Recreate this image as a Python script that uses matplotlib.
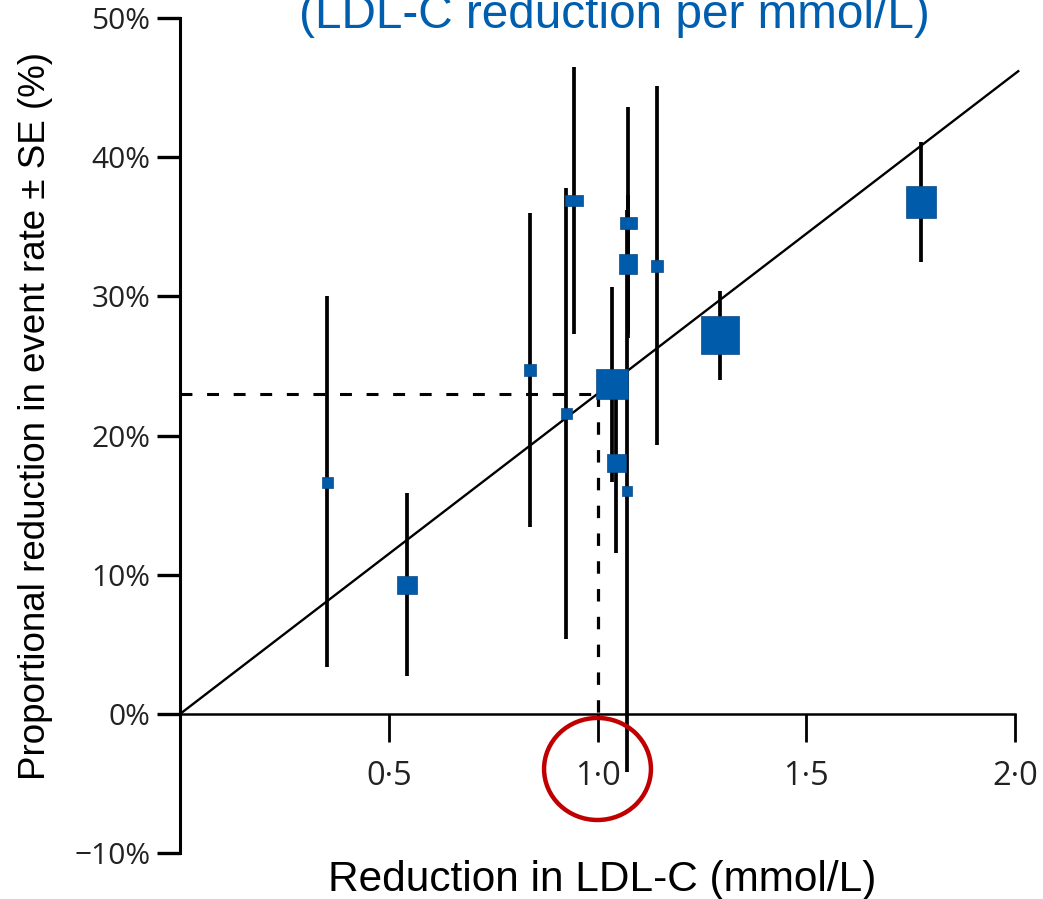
import matplotlib
matplotlib.use("Agg")
import matplotlib.pyplot as plt
from matplotlib.path import Path
from matplotlib.patches import Ellipse

# Trial-level results: absolute LDL-C reduction vs proportional reduction in events
ldl_reduction = [0.353, 0.544, 0.838, 0.925, 0.944, 1.034, 1.044,
                 1.073, 1.072, 1.071, 1.143, 1.293, 1.776]
event_reduction = [16.7, 9.3, 24.7, 21.6, 36.9, 23.7, 18.0,
                   35.3, 32.3, 16.0, 32.2, 27.2, 36.8]
event_se = [13.3, 6.6, 11.3, 16.2, 9.6, 7.0, 6.4,
            8.3, 5.0, 20.2, 12.9, 3.2, 4.3]

# Square size (pixels) reflecting each trial's weight
box_w_px = [11, 20, 12, 11, 18, 32, 19, 17, 19, 10, 12, 38, 30]
box_h_px = [11, 18, 12, 11, 11, 30, 18, 12, 20, 10, 12, 38, 32]

# Fitted relationship: 23% reduction per mmol/L
slope_per_mmol = 23.0
fit_x_end = 2.01
ref_ldl = 1.0

xticks = [0.5, 1.0, 1.5, 2.0]
xtick_labels = ["0\u00b75", "1\u00b70", "1\u00b75", "2\u00b70"]
yticks = [-10, 0, 10, 20, 30, 40, 50]
ytick_labels = ["\u221210%", "0%", "10%", "20%", "30%", "40%", "50%"]

title_text = "(LDL-C reduction per mmol/L)"
xlabel_text = "Reduction in LDL-C (mmol/L)"
ylabel_text = "Proportional reduction in event rate \u00b1 SE (%)"

W, H, DPI = 1043, 899, 100
PX = 72.0 / DPI
X0_PX, Y0_PX = 180, 714
PX_PER_UNIT = 417.5
PX_PER_PCT = 13.92

BLUE = "#005BAA"
TITLE_BLUE = "#005EAF"
TICK_COLOR = "#222222"

plt.rcParams["font.family"] = ["Liberation Sans", "DejaVu Sans"]

fig = plt.figure(figsize=(W / DPI, H / DPI), dpi=DPI)
ax = fig.add_axes([X0_PX / W, 0, 1 - X0_PX / W, 1])
ax.set_xlim(0, (W - X0_PX) / PX_PER_UNIT)
ax.set_ylim(-(H - Y0_PX) / PX_PER_PCT, Y0_PX / PX_PER_PCT)
ax.patch.set_alpha(0)

for side in ("top", "right"):
    ax.spines[side].set_visible(False)
ax.spines["left"].set_bounds(-10, 50)
ax.spines["left"].set_linewidth(2.2)
ax.spines["bottom"].set_position(("data", 0))
ax.spines["bottom"].set_bounds(0, 2.0)
ax.spines["bottom"].set_linewidth(1.8)

ax.set_xticks(xticks)
ax.set_xticklabels(xtick_labels)
ax.set_yticks(yticks)
ax.set_yticklabels(ytick_labels)
ax.tick_params(axis="y", direction="out", length=16.5, width=2.4, pad=5,
               labelsize=21.5, labelcolor=TICK_COLOR)
ax.tick_params(axis="x", direction="out", length=20, width=2.0, pad=13,
               labelsize=23.5, labelcolor=TICK_COLOR)
for lab in ax.get_xticklabels() + ax.get_yticklabels():
    lab.set_fontfamily(["Open Sans", "DejaVu Sans"])

# Regression line through the origin
ax.plot([0, fit_x_end], [0, slope_per_mmol * fit_x_end],
        color="black", lw=1.7, zorder=2, solid_capstyle="butt")

# Reference lines at 1 mmol/L
ref_y = slope_per_mmol * ref_ldl
dash = (0, (3.9, 4.8))
ax.plot([0, ref_ldl], [ref_y, ref_y], color="black", lw=2.2,
        linestyle=dash, zorder=2, dash_capstyle="butt")
ax.plot([ref_ldl, ref_ldl], [ref_y, 0], color="black", lw=2.3,
        linestyle=dash, zorder=2, dash_capstyle="butt")

# Error bars (± SE)
lows = [y - s for y, s in zip(event_reduction, event_se)]
highs = [y + s for y, s in zip(event_reduction, event_se)]
ax.vlines(ldl_reduction, lows, highs, colors="black", lw=2.7, zorder=3)


def box_marker(w, h):
    verts = [(-w / 2, -h / 2), (w / 2, -h / 2), (w / 2, h / 2),
             (-w / 2, h / 2), (-w / 2, -h / 2)]
    codes = [Path.MOVETO, Path.LINETO, Path.LINETO, Path.LINETO,
             Path.CLOSEPOLY]
    return Path(verts, codes)


for x, y, w, h in zip(ldl_reduction, event_reduction, box_w_px, box_h_px):
    ax.plot([x], [y], linestyle="none", marker=box_marker(w, h),
            markersize=max(w, h) * PX, markerfacecolor=BLUE,
            markeredgecolor="#0B4A86", markeredgewidth=0.5, zorder=4)

# Highlight of the 1 mmol/L reference point on the axis
ax.add_patch(Ellipse((1.0, -3.95), 0.256, 7.33, fill=False,
                     edgecolor="#C00000", lw=3.2, clip_on=False, zorder=5))

# Titles and axis labels
fig.text(614 / W, 1 - 28 / H, title_text, ha="center", va="baseline",
         fontsize=34.4, color=TITLE_BLUE)
fig.text(602.5 / W, 1 - 891 / H, xlabel_text, ha="center", va="baseline",
         fontsize=30.5, color="black")
fig.text(45 / W, 1 - 416.5 / H, ylabel_text, ha="center", va="baseline",
         rotation=90, rotation_mode="anchor", fontsize=26.5, color="black")

fig.savefig("out.png", dpi=DPI)
